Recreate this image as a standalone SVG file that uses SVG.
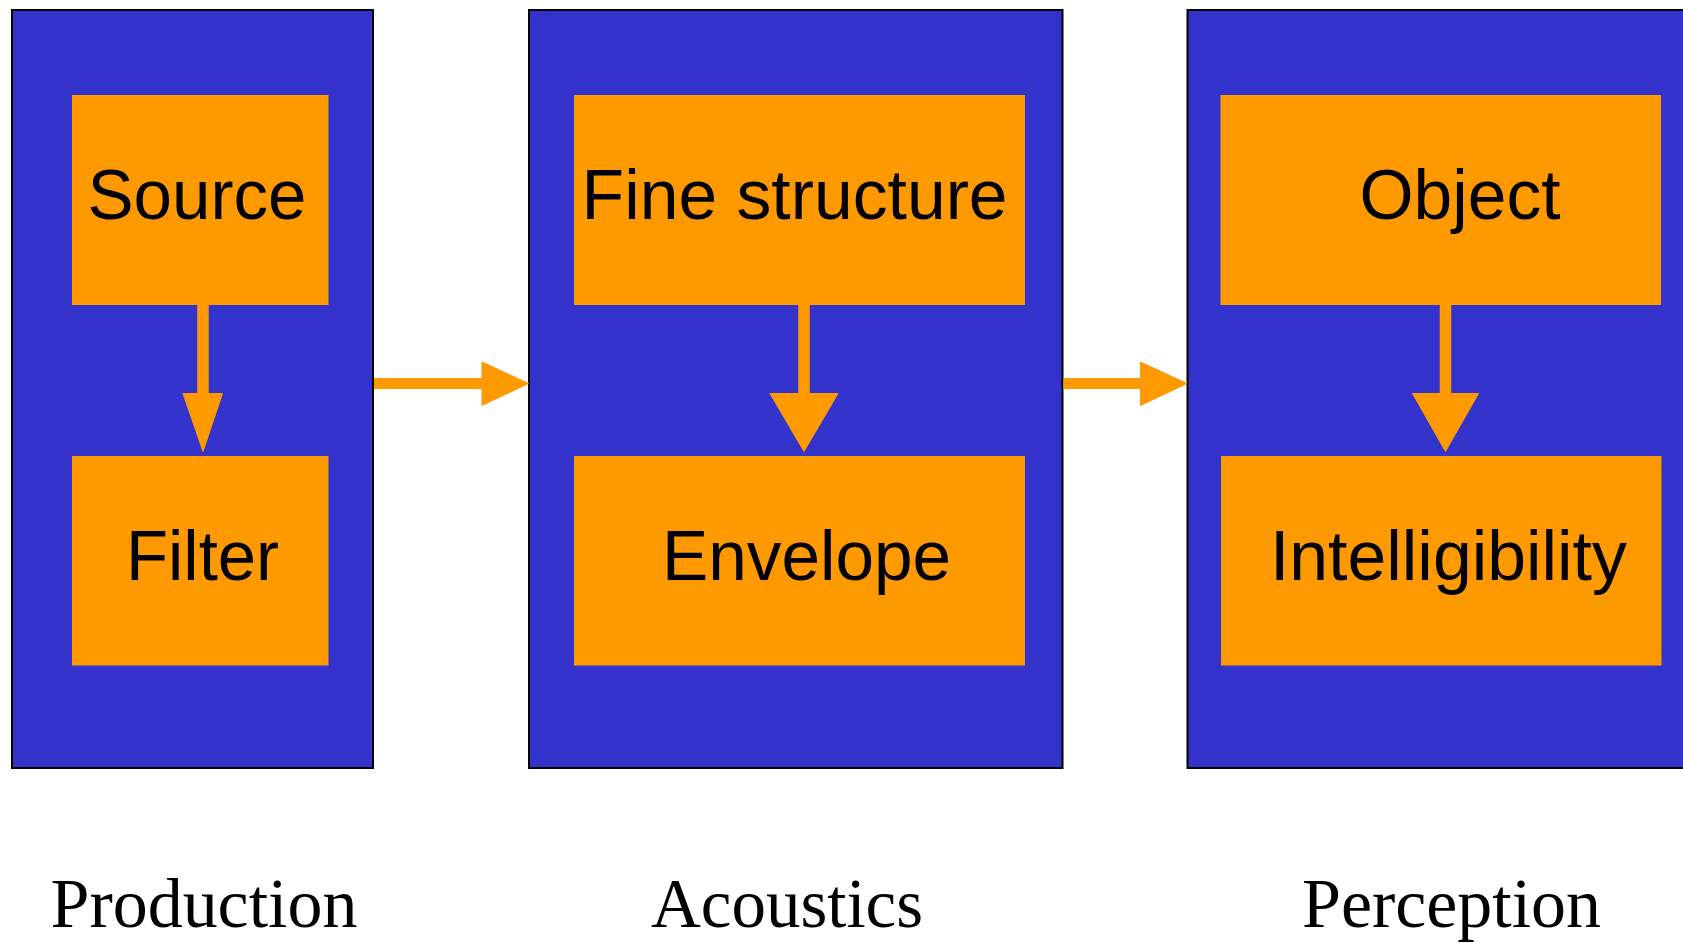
<svg xmlns="http://www.w3.org/2000/svg" width="1683" height="943" viewBox="0 0 1683 943">
<style>
.outer{fill:#3333CC;stroke:#000;stroke-width:2}
.inner{fill:#FF9900}
.lbl{font-family:"Liberation Sans",Arial,sans-serif;font-size:71px;fill:#000;text-anchor:middle}
.cap{font-family:"Liberation Serif","Times New Roman",serif;font-size:70px;fill:#000;text-anchor:middle}
.line{stroke:#FF9900;stroke-width:11.5;fill:none}
.head{fill:#FF9900;stroke:#FF9900;stroke-width:1;stroke-linejoin:round}
</style>
<rect width="1683" height="943" fill="#fff"/>
<g id="production">
<rect class="outer" x="12" y="10" width="361" height="758"/>
<text class="cap" x="204" y="926.5" textLength="307" lengthAdjust="spacingAndGlyphs">Production</text>
</g>
<g id="acoustics">
<rect class="outer" x="529" y="10" width="533.5" height="758"/>
<text class="cap" x="787" y="926.5" textLength="272" lengthAdjust="spacingAndGlyphs">Acoustics</text>
</g>
<g id="perception">
<rect class="outer" x="1187.5" y="10" width="520" height="758"/>
<text class="cap" x="1451.5" y="926.5" textLength="299" lengthAdjust="spacingAndGlyphs">Perception</text>
</g>
<g id="source">
<rect class="inner" x="72" y="95" width="256.5" height="210"/>
<text class="lbl" x="197" y="219" textLength="219" lengthAdjust="spacingAndGlyphs">Source</text>
</g>
<g id="filter">
<rect class="inner" x="72" y="456" width="256.5" height="209.5"/>
<text class="lbl" x="202.5" y="579.5" textLength="153" lengthAdjust="spacingAndGlyphs">Filter</text>
</g>
<g id="fine-structure">
<rect class="inner" x="574" y="95" width="451" height="210"/>
<text class="lbl" x="794.6" y="219" textLength="426" lengthAdjust="spacingAndGlyphs">Fine structure</text>
</g>
<g id="envelope">
<rect class="inner" x="574" y="456" width="451" height="209.5"/>
<text class="lbl" x="806.6" y="579.5" textLength="289" lengthAdjust="spacingAndGlyphs">Envelope</text>
</g>
<g id="object">
<rect class="inner" x="1220.5" y="95" width="440.5" height="210"/>
<text class="lbl" x="1460" y="219" textLength="201" lengthAdjust="spacingAndGlyphs">Object</text>
</g>
<g id="intelligibility">
<rect class="inner" x="1221" y="456" width="440.5" height="209.5"/>
<text class="lbl" x="1448.4" y="579.5" textLength="357" lengthAdjust="spacingAndGlyphs">Intelligibility</text>
</g>
<g id="connectors">
<line class="line" x1="203" y1="304" x2="203" y2="394"/>
<polygon class="head" points="183,393.5 222.5,393.5 203,451.5"/>
<line class="line" x1="804" y1="304" x2="804" y2="394"/>
<polygon class="head" points="770,393.5 838,393.5 804,451.5"/>
<line class="line" x1="1445.5" y1="304" x2="1445.5" y2="394"/>
<polygon class="head" points="1412.5,393.5 1478.5,393.5 1445.5,451.5"/>
<line x1="374" y1="383.5" x2="483" y2="383.5" style="stroke:#FF9900;stroke-width:11;fill:none"/>
<polygon class="head" points="482,362 482,405.5 528.5,383.5"/>
<line x1="1063.5" y1="383.5" x2="1141.5" y2="383.5" style="stroke:#FF9900;stroke-width:11;fill:none"/>
<polygon class="head" points="1140.5,362 1140.5,405.5 1187,383.5"/>
</g>
</svg>
